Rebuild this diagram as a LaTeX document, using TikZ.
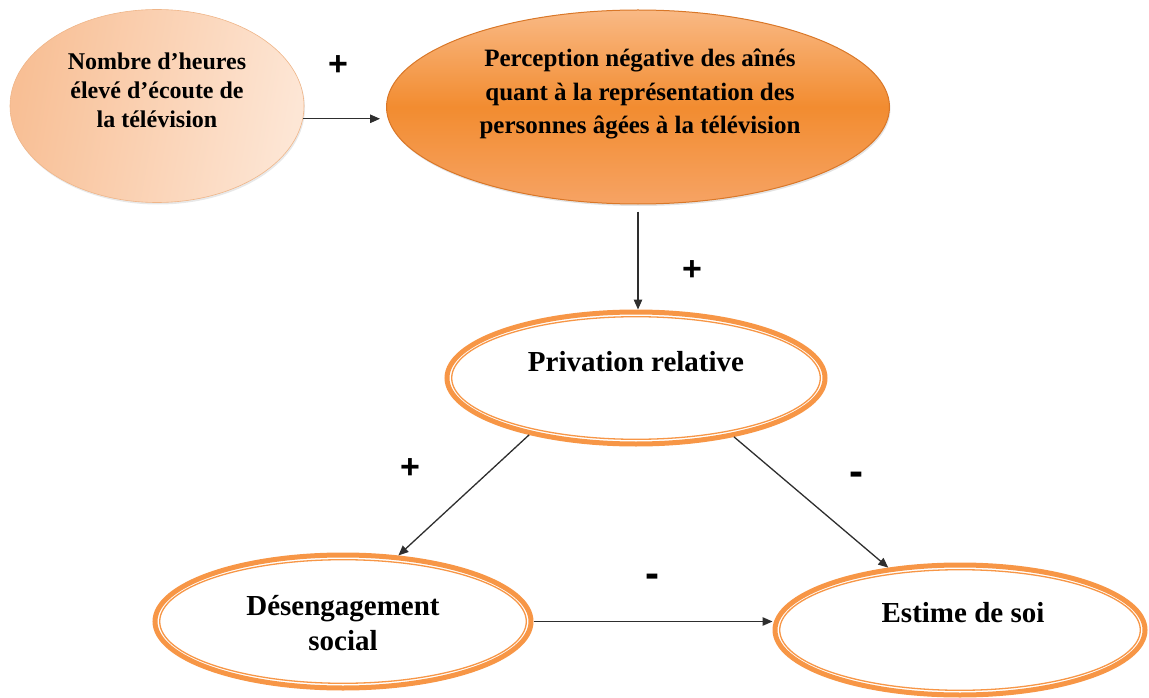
\documentclass[tikz,border=0pt]{standalone}
\usepackage{fontspec}
\setmainfont{Liberation Serif}
\newfontfamily\signfont{Liberation Sans}
\usetikzlibrary{shapes.geometric,arrows.meta,shadows}
\definecolor{ring}{HTML}{F79646}
\definecolor{lightA}{HTML}{F8BF95}
\definecolor{lightB}{HTML}{FDE6D5}
\definecolor{bigtop}{HTML}{F9B985}
\definecolor{bigmid}{HTML}{F28C30}
\definecolor{bigbot}{HTML}{F6A364}
\definecolor{bigedge}{HTML}{D97728}
\definecolor{arrowgray}{HTML}{2E2E2E}
\begin{document}
\begin{tikzpicture}[x=1pt,y=-1pt,
  oval/.style={ellipse, inner sep=0pt},
  ringed/.style={oval, draw=ring, line width=5pt, fill=white},
  thinring/.style={draw=ring, line width=1.3pt},
  lbltop/.style={align=center, font=\fontsize{24}{29}\selectfont\bfseries, inner sep=0pt},
  lblbig/.style={align=center, font=\fontsize{25}{33.5}\selectfont\bfseries, inner sep=0pt},
  lbllow/.style={align=center, font=\fontsize{29}{35}\selectfont\bfseries, inner sep=0pt},
  sign/.style={font=\signfont\fontsize{34}{34}\selectfont\bfseries, inner sep=0pt},
  minus/.style={font=\signfont\fontsize{42}{42}\selectfont\bfseries, inner sep=0pt},
  arr/.style={draw=arrowgray, line width=1.3pt, -{Triangle[length=10pt,width=8.5pt]}}
]
\useasboundingbox (0,0) rectangle (1149,698);

% ellipses
\node[oval, minimum width=294pt, minimum height=193pt, left color=lightA, right color=lightB, shading angle=80,
      draw=lightA!85!brown, line width=0.6pt,
      drop shadow={opacity=0.18, shadow xshift=1pt, shadow yshift=-2pt}] (nb) at (157,106) {};
\node[oval, minimum width=503pt, minimum height=194pt, top color=bigtop, bottom color=bigbot, middle color=bigmid,
      draw=bigedge, line width=1pt,
      drop shadow={opacity=0.22, shadow xshift=1pt, shadow yshift=-2pt}] (big) at (638,107) {};
\node[ringed, minimum width=378pt, minimum height=132pt] (prv) at (636,378) {};
\node[ringed, minimum width=376pt, minimum height=133pt] (des) at (343,621.5) {};
\node[ringed, minimum width=370pt, minimum height=130pt] (est) at (960,630) {};
\draw[thinring] (prv.center) ellipse [x radius=184.3, y radius=61.3];
\draw[thinring] (des.center) ellipse [x radius=183.3, y radius=61.8];
\draw[thinring] (est.center) ellipse [x radius=180.3, y radius=60.3];

% texts
\node[lbltop] (nbt) at (157,90) {Nombre d’heures\\élevé d’écoute de\\la télévision};
\node[lblbig] (bigt) at (640,94) {Perception négative des aînés\\quant à la représentation des\\personnes âgées à la télévision};
\node[lbllow] (prvt) at (636,362) {Privation relative};
\node[lbllow] (dest) at (343,623) {Désengagement\\social};
\node[lbllow] (estt) at (963,613) {Estime de soi};

% signs
\node[sign] (s1) at (338,66) {+};
\node[sign] (s2) at (692,271) {+};
\node[sign] (s3) at (410,469) {+};
\node[minus] (s4) at (856,479) {-};
\node[minus] (s5) at (652,581) {-};

% connectors
\draw[arr, shorten >=6pt] (nb.-5) -- (nb.-5 -| big.west);
\draw[arr, shorten <=7pt] (big.south) -- (big.south |- prv.north);
\draw[arr] (prv.208) -- (des.50);
\draw[arr] (prv.329) -- (est.139);
\draw[arr] (des.east) -- (est.west |- des.east);
\end{tikzpicture}
\end{document}
